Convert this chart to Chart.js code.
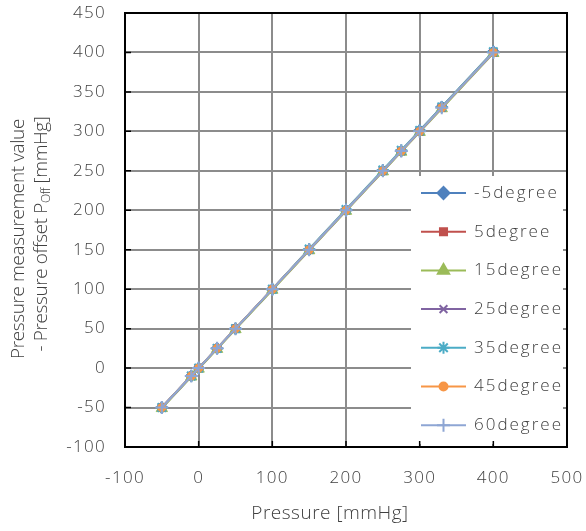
<!DOCTYPE html>
<html>
<head>
<meta charset="utf-8">
<script src="https://cdn.jsdelivr.net/npm/chart.js@4.4.1/dist/chart.umd.min.js"></script>
<style>
  html, body { margin: 0; padding: 0; background: #fff; }
  #wrap { width: 586px; height: 531px; }
</style>
</head>
<body>
<div id="wrap"><canvas id="pressureChart" width="586" height="531"></canvas></div>
<script>
// reference pressure points [mmHg]
const pressure = [-50, -10, 0, 25, 50, 100, 150, 200, 250, 275, 300, 330, 400];

// measured value minus offset, one array per sensor angle
const deg_m5 = [-50, -10, 0, 25, 50, 100, 150, 200, 250, 275, 301, 331, 401];
const deg_5  = [-50, -10, 0, 25, 50, 100, 150, 200, 250, 275, 300, 330, 400];
const deg_15 = [-51, -11, -1, 24, 49, 99, 149, 199, 249, 274, 299, 329, 399];
const deg_25 = [-50, -10, 0, 25, 50, 100, 150, 200, 250, 275, 300, 330, 400];
const deg_35 = [-50, -10, 0, 25, 50, 100, 151, 201, 251, 276, 301, 331, 401];
const deg_45 = [-50, -10, 0, 25, 50, 100, 150, 200, 250, 275, 300, 330, 400];
const deg_60 = [-50, -10, 0, 25, 50, 100, 150, 200, 250, 275, 300, 330, 400];

const seriesNames = ['-5degree', '5degree', '15degree', '25degree', '35degree', '45degree', '60degree'];
const seriesValues = [deg_m5, deg_5, deg_15, deg_25, deg_35, deg_45, deg_60];
const seriesColors = ['#4F81BD', '#C0504D', '#9BBB59', '#8064A2', '#4BACC6', '#F79646', '#8EA6D4'];
const seriesMarkers = ['rectRot', 'rect', 'triangle', 'crossRot', 'star', 'circle', 'cross'];
const markerSizes = [6, 5, 6.5, 5.5, 6, 4, 6.5];

const xTicks = [-100, 0, 100, 200, 300, 400, 500];
const yTicks = [-100, -50, 0, 50, 100, 150, 200, 250, 300, 350, 400, 450];

const FONT = '"Open Sans", sans-serif';
const WEIGHT = '300';
const TEXT = '#404040';

const datasets = seriesNames.map((name, i) => ({
    label: name,
    data: pressure.map((p, k) => ({ x: p, y: seriesValues[i][k] })),
    borderColor: seriesColors[i],
    backgroundColor: seriesColors[i],
    borderWidth: 2,
    pointStyle: seriesMarkers[i],
    pointRadius: markerSizes[i],
    pointBorderWidth: (seriesMarkers[i] === 'crossRot' || seriesMarkers[i] === 'star' || seriesMarkers[i] === 'cross') ? 2 : 1,
    order: seriesNames.length - i,
    tension: 0
}));

function font(size) {
    return WEIGHT + ' ' + size + 'px ' + FONT;
}

// spaced-out lettering for tick labels
const spacing = {
    id: 'spacing',
    beforeDraw(chart) { chart.ctx.letterSpacing = '1.3px'; },
    afterDraw(chart) { chart.ctx.letterSpacing = '0px'; }
};

// frame, inside tick marks, legend box and axis titles
const decorations = {
    id: 'decorations',
    afterDatasetsDraw(chart) {
        const ctx = chart.ctx;
        const a = chart.chartArea;
        const xs = chart.scales.x, ys = chart.scales.y;
        ctx.save();

        // legend panel inside the plot
        const lx = 411, ly = 176, lw = 152, lh = 268;
        ctx.fillStyle = '#fff';
        ctx.fillRect(lx, ly, lw, lh);
        ctx.font = font(17);
        ctx.letterSpacing = '2px';
        ctx.textBaseline = 'middle';
        ctx.textAlign = 'left';
        datasets.forEach((ds, i) => {
            const y = 193 + i * 38.7;
            ctx.strokeStyle = ds.borderColor;
            ctx.lineWidth = 2;
            ctx.beginPath();
            ctx.moveTo(421, y);
            ctx.lineTo(466, y);
            ctx.stroke();
            ctx.fillStyle = ds.backgroundColor;
            Chart.helpers.drawPoint(ctx, {
                pointStyle: ds.pointStyle,
                radius: ds.pointRadius,
                rotation: 0,
                borderWidth: ds.pointBorderWidth
            }, 443.5, y);
            ctx.fillStyle = TEXT;
            ctx.fillText(ds.label, 474, y);
        });

        // plot frame
        ctx.strokeStyle = '#000';
        ctx.lineWidth = 2;
        ctx.strokeRect(a.left, a.top, a.right - a.left, a.bottom - a.top);

        // inside tick marks
        ctx.lineWidth = 1.5;
        ctx.beginPath();
        yTicks.forEach(v => {
            const y = ys.getPixelForValue(v);
            ctx.moveTo(a.left, y);
            ctx.lineTo(a.left + 6, y);
        });
        xTicks.forEach(v => {
            const x = xs.getPixelForValue(v);
            ctx.moveTo(x, a.bottom);
            ctx.lineTo(x, a.bottom - 6);
        });
        ctx.stroke();

        // x axis title
        ctx.fillStyle = TEXT;
        ctx.font = font(19);
        ctx.letterSpacing = '0.5px';
        ctx.textAlign = 'center';
        ctx.fillText('Pressure [mmHg]', 330, 514);

        // y axis title, two lines with subscript
        ctx.letterSpacing = '-0.4px';
        ctx.save();
        ctx.translate(19, 239);
        ctx.rotate(-Math.PI / 2);
        ctx.fillText('Pressure measurement value', 0, 0);
        ctx.restore();

        ctx.save();
        ctx.translate(42, 234);
        ctx.rotate(-Math.PI / 2);
        const partA = '- Pressure offset P';
        const partSub = 'Off';
        const partB = ' [mmHg]';
        ctx.font = font(19);
        const wA = ctx.measureText(partA).width;
        const wB = ctx.measureText(partB).width;
        ctx.font = font(12);
        const wS = ctx.measureText(partSub).width;
        const x0 = -(wA + wS + wB) / 2;
        ctx.textAlign = 'left';
        ctx.font = font(19);
        ctx.fillText(partA, x0, 0);
        ctx.font = font(12);
        ctx.fillText(partSub, x0 + wA, 5);
        ctx.font = font(19);
        ctx.fillText(partB, x0 + wA + wS, 0);
        ctx.restore();

        ctx.restore();
    }
};

new Chart('pressureChart', {
    type: 'line',
    data: { datasets: datasets },
    options: {
        responsive: false,
        animation: false,
        layout: { padding: { top: 13, right: 19, left: 0, bottom: 0 } },
        plugins: { legend: { display: false }, tooltip: { enabled: false } },
        scales: {
            x: {
                type: 'linear',
                min: -100,
                max: 500,
                afterBuildTicks: s => { s.ticks = xTicks.map(v => ({ value: v })); },
                afterFit: s => { s.height = 84; s.paddingLeft = 0; s.paddingRight = 0; },
                grid: { color: '#8c8c8c', lineWidth: 2, drawTicks: false },
                border: { display: false },
                ticks: { color: TEXT, font: { family: FONT, size: 17, weight: WEIGHT }, padding: 21 }
            },
            y: {
                type: 'linear',
                min: -100,
                max: 450,
                afterBuildTicks: s => { s.ticks = yTicks.map(v => ({ value: v })); },
                afterFit: s => { s.width = 125; s.paddingTop = 0; s.paddingBottom = 0; },
                grid: { color: '#8c8c8c', lineWidth: 2, drawTicks: false },
                border: { display: false },
                ticks: { color: TEXT, font: { family: FONT, size: 17, weight: WEIGHT }, padding: 19 }
            }
        }
    },
    plugins: [spacing, decorations]
});
</script>
</body>
</html>
